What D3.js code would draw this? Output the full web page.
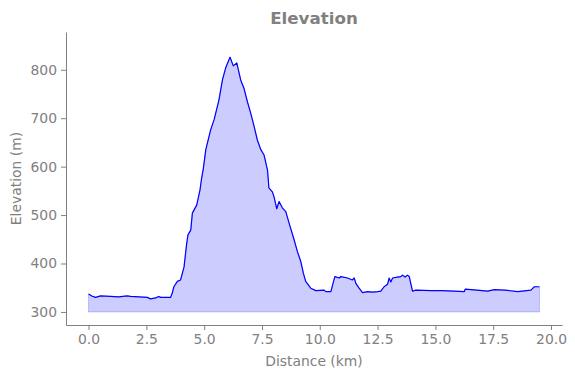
<!DOCTYPE html>
<html>
<head>
<meta charset="utf-8">
<script src="https://cdn.jsdelivr.net/npm/d3@7"></script>
<style>
  body { margin: 0; background: #fff; }
  svg text { font-family: "DejaVu Sans", sans-serif; }
</style>
</head>
<body>
<div id="chart"></div>
<script>
// distance along the track (km) and elevation (m)
const distKm = [
  0.0, 0.14, 0.3, 0.52, 0.95, 1.3, 1.67, 1.82, 2.2, 2.54, 2.68, 2.9, 3.04, 3.12, 3.55,
  3.62, 3.69, 3.84, 3.98, 4.13, 4.24, 4.3, 4.42, 4.49, 4.68, 4.82, 4.88, 4.96, 5.07,
  5.28, 5.43, 5.64, 5.79, 5.93, 6.05, 6.12, 6.26, 6.41, 6.46, 6.58, 6.72, 6.87, 7.01,
  7.16, 7.30, 7.45, 7.59, 7.74, 7.8, 7.95, 8.02, 8.14, 8.24, 8.38, 8.53, 8.67, 8.89,
  9.03, 9.18, 9.29, 9.39, 9.61, 9.83, 10.19, 10.26, 10.48, 10.65, 10.84, 10.91, 11.2,
  11.41, 11.49, 11.56, 11.7, 11.85, 12.07, 12.28, 12.5, 12.64, 12.78, 12.93, 13.0,
  13.07, 13.15, 13.36, 13.51, 13.58, 13.69, 13.79, 13.87, 14.01, 14.16, 14.81, 15.3,
  15.8, 16.25, 16.29, 16.8, 17.26, 17.55, 18.0, 18.56, 19.13, 19.28, 19.5
];
const elevM = [
  337, 333, 330, 333, 332, 331, 333, 332, 331, 330, 327, 329, 332, 330, 330,
  339, 352, 363, 366, 393, 440, 459, 469, 504, 521, 552, 573, 595, 635,
  676, 697, 738, 779, 804, 818, 826, 808, 814, 804, 779, 762, 734, 711,
  683, 655, 635, 624, 593, 556, 548, 538, 513, 528, 515, 507, 484, 449,
  425, 404, 380, 363, 349, 344, 345, 342, 342, 373, 370, 373, 370,
  366, 370, 359, 349, 340, 342, 341, 342, 343, 352, 357, 370,
  362, 370, 372, 373, 376, 372, 376, 373, 343, 345, 344, 344,
  343, 342, 347, 345, 343, 346, 345, 342, 345, 352, 352
];
const xTicks = [0, 2.5, 5, 7.5, 10, 12.5, 15, 17.5, 20];
const yTicks = [300, 400, 500, 600, 700, 800];
const baseElev = 300;

const width = 575;
const height = 378;
const margin = { top: 32, right: 13, bottom: 53, left: 66 };
const grey = '#808080';

const svg = d3.select('#chart').append('svg')
  .attr('width', width)
  .attr('height', height);

const x = d3.scaleLinear()
  .domain([-0.975, 20.475])
  .range([margin.left, width - margin.right]);

const y = d3.scaleLinear()
  .domain([273, 878])
  .range([height - margin.bottom, margin.top]);

const pts = distKm.map((d, i) => [d, elevM[i]]);

const area = d3.area()
  .x((d) => x(d[0]))
  .y0(y(baseElev))
  .y1((d) => y(d[1]));

const line = d3.line()
  .x((d) => x(d[0]))
  .y((d) => y(d[1]));

svg.append('path')
  .datum(pts)
  .attr('d', area)
  .attr('fill', 'rgba(0,0,255,0.2)')
  .attr('stroke', 'rgba(0,0,255,0.2)')
  .attr('stroke-width', 1);

svg.append('path')
  .datum(pts)
  .attr('d', line)
  .attr('fill', 'none')
  .attr('stroke', '#0000ff')
  .attr('stroke-width', 1.2)
  .attr('stroke-linejoin', 'round');

// axes
const xAxis = svg.append('g')
  .attr('transform', `translate(0, ${height - margin.bottom})`)
  .call(d3.axisBottom(x).tickValues(xTicks).tickFormat(d3.format('.1f'))
    .tickSizeInner(5).tickSizeOuter(0).tickPadding(4));

const yAxis = svg.append('g')
  .attr('transform', `translate(${margin.left}, 0)`)
  .call(d3.axisLeft(y).tickValues(yTicks).tickSizeInner(5).tickSizeOuter(0).tickPadding(4));

[xAxis, yAxis].forEach((g) => {
  g.select('.domain').attr('stroke', grey).attr('stroke-width', 1);
  g.selectAll('.tick line').attr('stroke', grey);
  g.selectAll('.tick text').attr('fill', grey).style('font-size', '13.9px');
});

// titles
svg.append('text')
  .attr('x', (margin.left + width - margin.right) / 2)
  .attr('y', 24)
  .attr('text-anchor', 'middle')
  .attr('fill', grey)
  .style('font-size', '16.7px')
  .style('font-weight', 'bold')
  .text('Elevation');

svg.append('text')
  .attr('x', (margin.left + width - margin.right) / 2)
  .attr('y', 366)
  .attr('text-anchor', 'middle')
  .attr('fill', grey)
  .style('font-size', '13.9px')
  .text('Distance (km)');

svg.append('text')
  .attr('transform', `translate(21, ${(margin.top + height - margin.bottom) / 2}) rotate(-90)`)
  .attr('text-anchor', 'middle')
  .attr('fill', grey)
  .style('font-size', '13.9px')
  .text('Elevation (m)');
</script>
</body>
</html>
